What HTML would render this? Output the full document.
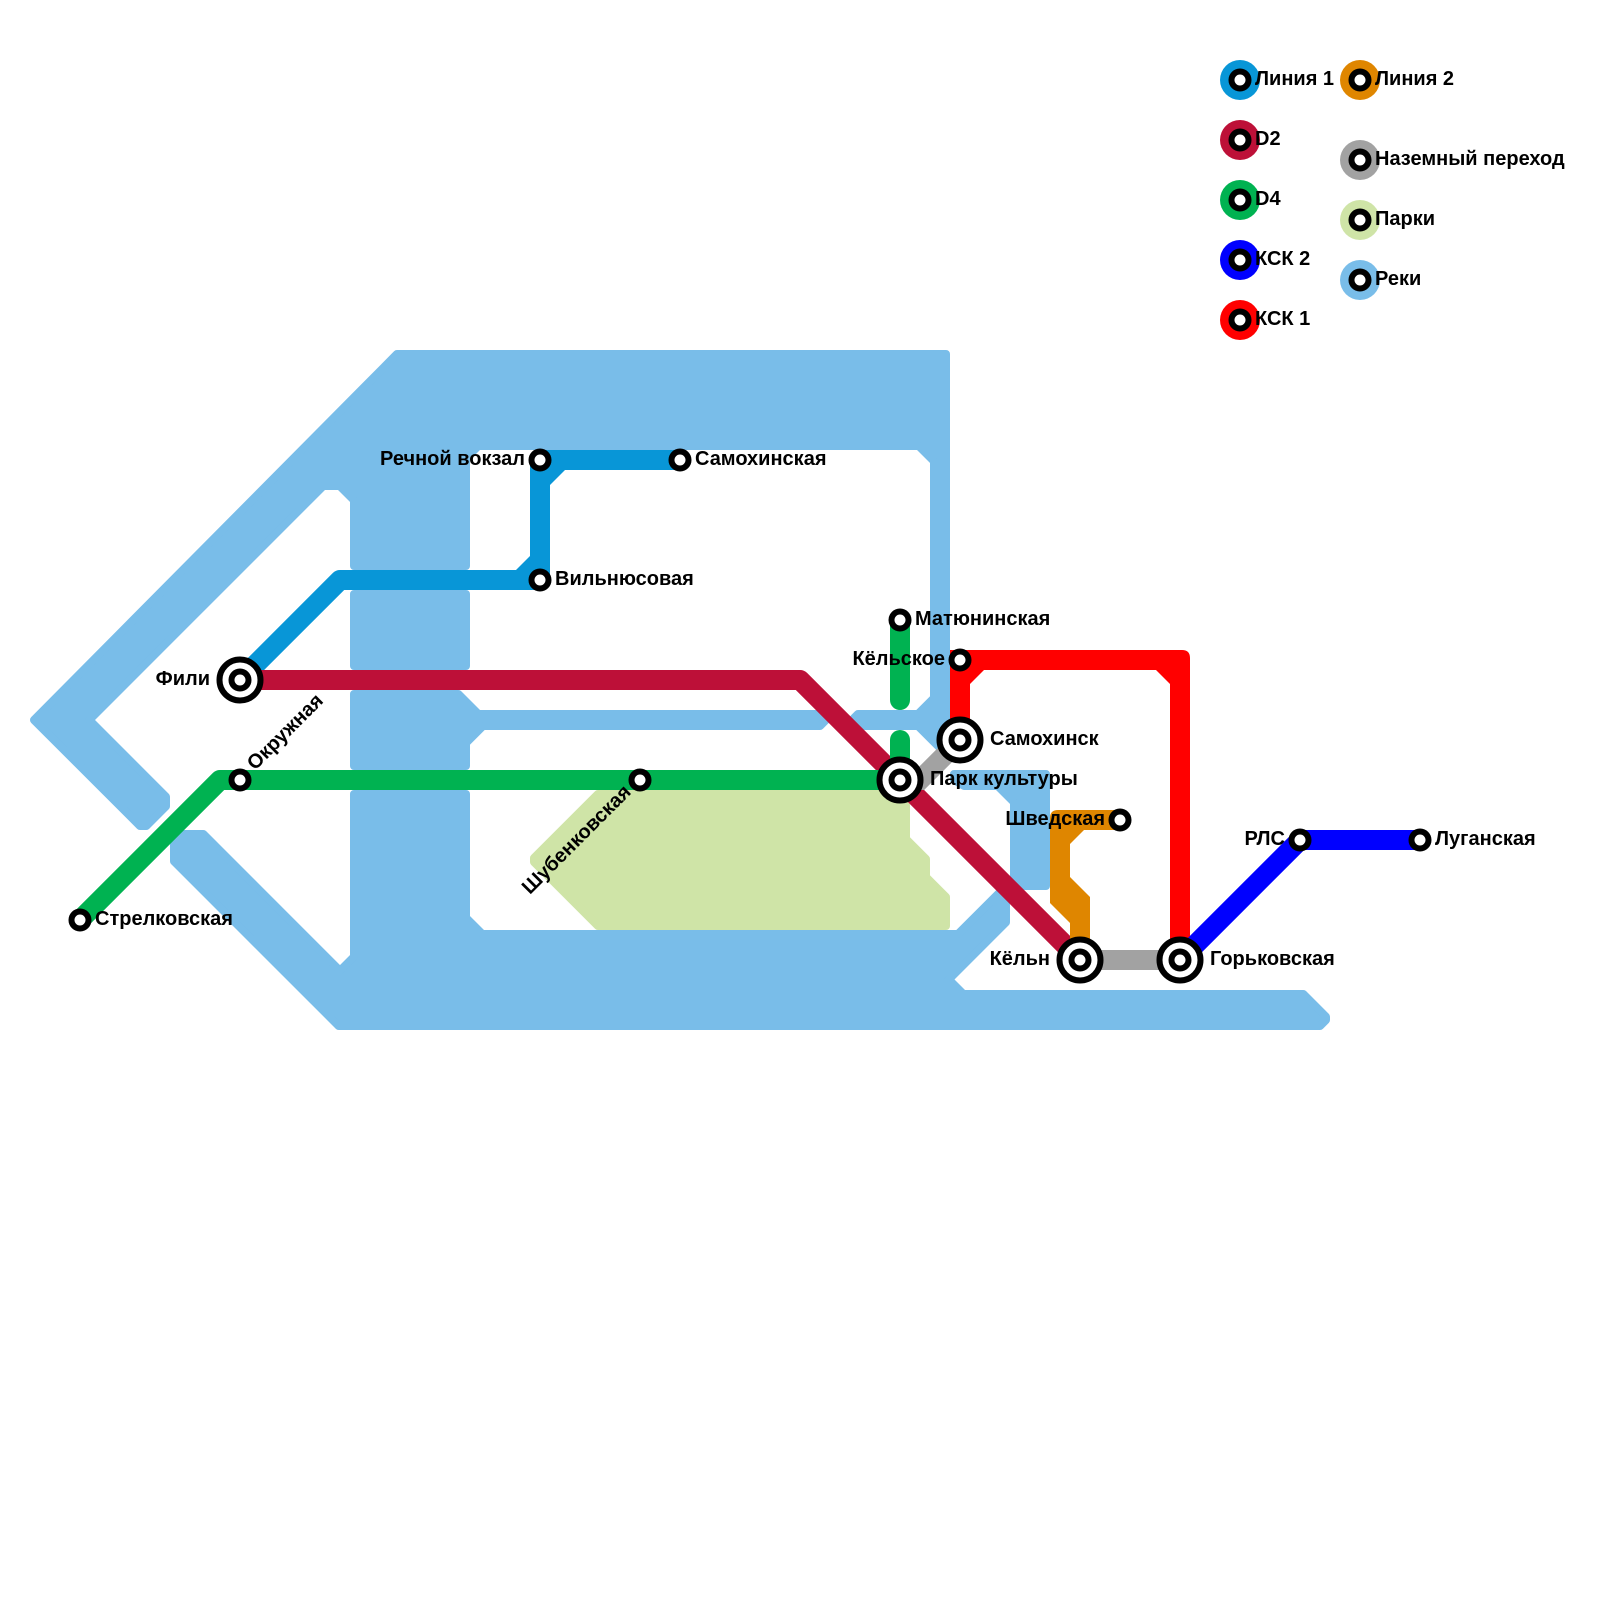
<!DOCTYPE html>
<html><head><meta charset="utf-8"><style>
html,body{margin:0;padding:0;background:#fff}
svg{display:block}
text{font-family:"Liberation Sans",sans-serif;font-weight:bold;font-size:20px;fill:#000}
.e{text-anchor:end}
.r{fill:#79bde9;stroke:#79bde9;stroke-width:8;stroke-linejoin:round}
.l{fill:none;stroke-width:20}
.s{fill:#fff;stroke:#000;stroke-width:6}
.b{fill:#fff;stroke:#000;stroke-width:6}
</style></head><body>
<svg width="1600" height="1600" viewBox="0 0 1600 1600" xmlns="http://www.w3.org/2000/svg">
<rect width="1600" height="1600" fill="#fff"/>
<!-- rivers -->
<g class="r">
<polygon points="397,354 946,354 946,748 940,748 918,726 858,726 854,718 858,714 918,714 934,698 934,461.3 918.7,446 478.3,446 466,458.3 466,566 354,566 354,500.3 339.7,486 323.3,486 89.3,720 166,796.7 166,806.3 146.3,826 140,826 34,720"/>
<rect x="354" y="594" width="112" height="72"/>
<polygon points="354,694 458.3,694 478.3,714 826,714 826,720 820,726 483,726 466,743 466,766 354,766"/>
<polygon points="954,774 1046,774 1046,886 1014,886 1014,802.3 997.7,786 964,786 954,780"/>
<polygon points="1006,886 1006,922.3 948.8,979.5 963.3,994 1303.3,994 1326,1016.7 1326,1020 1320,1026 338.7,1026 174,861.3 174,838 178,834 203.3,834 340,970.7 354,956.7 354,794 466,794 466,917.7 482.3,934 958,934"/>
</g>
<!-- park -->
<polygon points="598,794 906,794 906,839 926,859 926,877 946,897 946,926 598,926 534,862 534,858" fill="#cfe4a7" stroke="#cfe4a7" stroke-width="8" stroke-linejoin="round"/>
<!-- lines -->
<path d="M240 680L340 580H540V460H680" class="l" stroke="#0896d7" stroke-linejoin="round"/>
<polygon points="515,571 531,571 531,555" fill="#0896d7"/>
<polygon points="549,470 565,470 549,486" fill="#0896d7"/>
<path d="M240 680H800L1080 960" class="l" stroke="#bd1038" stroke-linejoin="round"/>
<path d="M1180 960H1080" class="l" stroke="#a2a2a2"/>
<path d="M900 780H920L960 740" class="l" stroke="#a2a2a2"/>
<path d="M80 920L220 780H900" class="l" stroke="#00b251" stroke-linejoin="round"/>
<path d="M900 620V700" class="l" stroke="#00b251" stroke-linecap="round"/>
<path d="M900 740V780" class="l" stroke="#00b251" stroke-linecap="round"/>
<path d="M1058 810H1120V830H1084L1070 844V877L1090 897V960H1070V923L1050 903V818Q1050 810 1058 810Z" fill="#df8600"/>
<path d="M950 740V650H1182Q1190 650 1190 658V960H1170V684L1156 670H984L970 684V740Z" fill="#f00"/>
<path d="M1180 960L1300 840H1420" class="l" stroke="#00f"/>
<!-- stations -->
<g>
<circle cx="240" cy="680" r="20.5" class="b"/><circle cx="240" cy="680" r="8.5" class="s"/>
<circle cx="900" cy="780" r="20.5" class="b"/><circle cx="900" cy="780" r="8.5" class="s"/>
<circle cx="960" cy="740" r="20.5" class="b"/><circle cx="960" cy="740" r="8.5" class="s"/>
<circle cx="1080" cy="960" r="20.5" class="b"/><circle cx="1080" cy="960" r="8.5" class="s"/>
<circle cx="1180" cy="960" r="20.5" class="b"/><circle cx="1180" cy="960" r="8.5" class="s"/>
<circle cx="240" cy="780" r="8.5" class="s"/>
<circle cx="80" cy="920" r="8.5" class="s"/>
<circle cx="640" cy="780" r="8.5" class="s"/>
<circle cx="540" cy="460" r="8.5" class="s"/>
<circle cx="680" cy="460" r="8.5" class="s"/>
<circle cx="540" cy="580" r="8.5" class="s"/>
<circle cx="900" cy="620" r="8.5" class="s"/>
<circle cx="960" cy="660" r="8.5" class="s"/>
<circle cx="1120" cy="820" r="8.5" class="s"/>
<circle cx="1300" cy="840" r="8.5" class="s"/>
<circle cx="1420" cy="840" r="8.5" class="s"/>
</g>
<!-- legend -->
<g>
<circle cx="1240" cy="80" r="20" fill="#0896d7"/><circle cx="1240" cy="80" r="8.5" class="s"/>
<circle cx="1240" cy="140" r="20" fill="#bd1038"/><circle cx="1240" cy="140" r="8.5" class="s"/>
<circle cx="1240" cy="200" r="20" fill="#00b251"/><circle cx="1240" cy="200" r="8.5" class="s"/>
<circle cx="1240" cy="260" r="20" fill="#00f"/><circle cx="1240" cy="260" r="8.5" class="s"/>
<circle cx="1240" cy="320" r="20" fill="#f00"/><circle cx="1240" cy="320" r="8.5" class="s"/>
<circle cx="1360" cy="80" r="20" fill="#df8600"/><circle cx="1360" cy="80" r="8.5" class="s"/>
<circle cx="1360" cy="160" r="20" fill="#a2a2a2"/><circle cx="1360" cy="160" r="8.5" class="s"/>
<circle cx="1360" cy="220" r="20" fill="#cfe4a7"/><circle cx="1360" cy="220" r="8.5" class="s"/>
<circle cx="1360" cy="280" r="20" fill="#79bde9"/><circle cx="1360" cy="280" r="8.5" class="s"/>
</g>
<!-- labels -->
<text x="1255" y="85">Линия 1</text>
<text x="1255" y="145">D2</text>
<text x="1255" y="205">D4</text>
<text x="1255" y="265">КСК 2</text>
<text x="1255" y="325">КСК 1</text>
<text x="1375" y="85">Линия 2</text>
<text x="1375" y="165">Наземный переход</text>
<text x="1375" y="225">Парки</text>
<text x="1375" y="285">Реки</text>
<text x="210" y="685" class="e">Фили</text>
<text x="255" y="771" transform="rotate(-45 255 771)">Окружная</text>
<text x="95" y="925">Стрелковская</text>
<text x="525" y="465" class="e">Речной вокзал</text>
<text x="695" y="465">Самохинская</text>
<text x="555" y="585">Вильнюсовая</text>
<text x="915" y="625">Матюнинская</text>
<text x="945" y="665" class="e">Кёльское</text>
<text x="990" y="745">Самохинск</text>
<text x="930" y="785">Парк культуры</text>
<text x="1105" y="825" class="e">Шведская</text>
<text x="1285" y="845" class="e">РЛС</text>
<text x="1435" y="845">Луганская</text>
<text x="1050" y="965" class="e">Кёльн</text>
<text x="1210" y="965">Горьковская</text>
<text x="632" y="793" class="e" transform="rotate(-45 632 793)">Шубенковская</text>
</svg>
</body></html>
